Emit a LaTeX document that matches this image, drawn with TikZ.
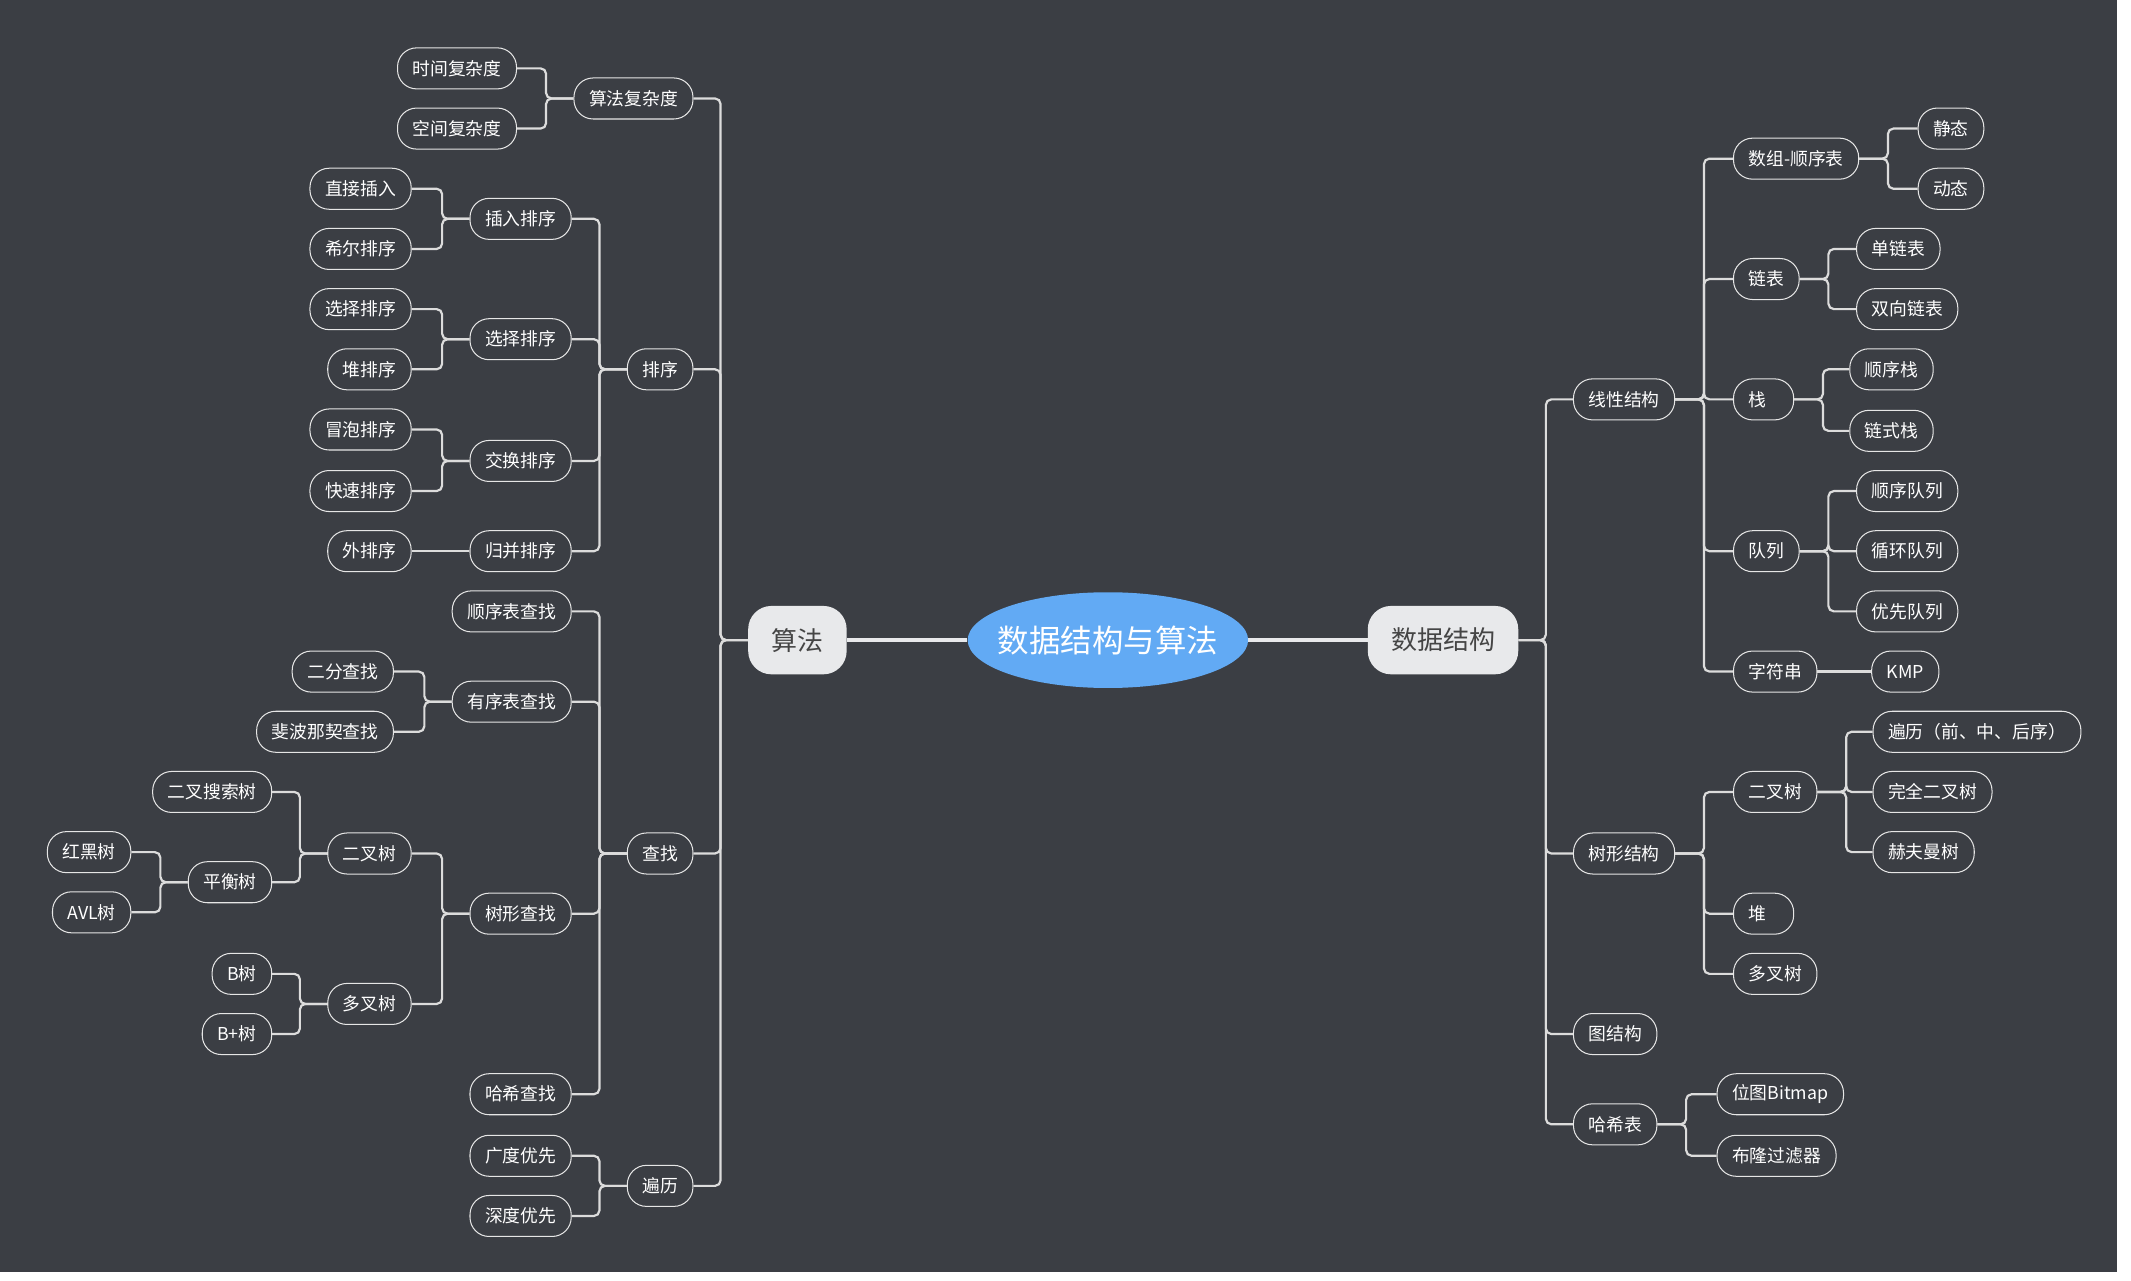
\documentclass[tikz,border=0pt]{standalone}
\usepackage{fontspec}
\setmainfont{Noto Sans CJK SC}
\usepackage{tikz}
\usetikzlibrary{positioning,shapes.geometric}
\definecolor{bgc}{HTML}{3B3E44}
\definecolor{linec}{HTML}{DCDCDC}
\definecolor{pillc}{HTML}{E6E6E6}
\definecolor{rootc}{HTML}{62AAF4}
\definecolor{mainc}{HTML}{E8E9EB}
\definecolor{maintext}{HTML}{454545}
\tikzset{%
	root/.style     = {ellipse, fill=rootc, minimum width=204pt, minimum height=70pt, inner xsep=-8pt, inner ysep=0pt, text=white, font=\fontsize{23}{26}\selectfont},
	main/.style     = {rectangle, fill=mainc, rounded corners=17pt, minimum height=50pt, inner xsep=17pt, text=maintext, font=\fontsize{19}{22}\selectfont},
	leaf/.style     = {draw=pillc, line width=0.75pt, rounded corners=14pt, minimum height=30pt, inner xsep=11pt, inner ysep=0pt, text=white, font=\fontsize{13}{15}\selectfont},
	narrow/.style   = {leaf, text width=22pt, align=left},
	link/.style     = {draw=linec, line width=1.6pt, rounded corners=4pt},
	mainlink/.style = {draw=mainc, line width=3pt},
}
\begin{document}
\begin{tikzpicture}[x=1pt,y=-1pt]
		\useasboundingbox (0,0) rectangle (1558,936);
		\fill[bgc] (0,0) rectangle (1548,930);
		
		% centre
		\node[root] (root) at (810,468) {数据结构与算法};
		\node[main] (sf) at (583,468) {算法};
		\node[main] (sjjg) at (1055,468) {数据结构};
		\draw[mainlink] (root) -- (sf);
		\draw[mainlink] (root) -- (sjjg);
		
		% algorithms, left side
		\node[leaf,anchor=east] (fzd) at (507,72) {算法复杂度};
		\node[leaf,anchor=east] (px) at (507,270) {排序};
		\node[leaf,anchor=east] (cz) at (507,624) {查找};
		\node[leaf,anchor=east] (bl) at (507,867) {遍历};
		\foreach \c in {fzd,px,cz,bl} \draw[link] (sf.west) -- ++(-20,0) |- (\c.east);
		
		\node[leaf,anchor=east] (sjfz) at (378,50) {时间复杂度};
		\node[leaf,anchor=east] (kjfz) at (378,94) {空间复杂度};
		\foreach \c in {sjfz,kjfz} \draw[link] (fzd.west) -- ++(-20,0) |- (\c.east);
		
		\node[leaf,anchor=east] (crpx) at (418,160) {插入排序};
		\node[leaf,anchor=east] (xzpx) at (418,248) {选择排序};
		\node[leaf,anchor=east] (jhpx) at (418,337) {交换排序};
		\node[leaf,anchor=east] (gbpx) at (418,403) {归并排序};
		\foreach \c in {crpx,xzpx,jhpx,gbpx} \draw[link] (px.west) -- ++(-20,0) |- (\c.east);
		
		\node[leaf,anchor=east] (zjcr) at (301,138) {直接插入};
		\node[leaf,anchor=east] (xepx) at (301,182) {希尔排序};
		\node[leaf,anchor=east] (jdxz) at (301,226) {选择排序};
		\node[leaf,anchor=east] (dpx) at (301,270) {堆排序};
		\node[leaf,anchor=east] (mppx) at (301,314) {冒泡排序};
		\node[leaf,anchor=east] (kspx) at (301,359) {快速排序};
		\node[leaf,anchor=east] (wpx) at (301,403) {外排序};
		\foreach \c in {zjcr,xepx} \draw[link] (crpx.west) -- ++(-20,0) |- (\c.east);
		\foreach \c in {jdxz,dpx} \draw[link] (xzpx.west) -- ++(-20,0) |- (\c.east);
		\foreach \c in {mppx,kspx} \draw[link] (jhpx.west) -- ++(-20,0) |- (\c.east);
		\draw[link] (gbpx.west) -- (wpx.east);
		
		\node[leaf,anchor=east] (sbcz) at (418,447) {顺序表查找};
		\node[leaf,anchor=east] (yxcz) at (418,513) {有序表查找};
		\node[leaf,anchor=east] (shcz) at (418,668) {树形查找};
		\node[leaf,anchor=east] (hxcz) at (418,800) {哈希查找};
		\foreach \c in {sbcz,yxcz,shcz,hxcz} \draw[link] (cz.west) -- ++(-20,0) |- (\c.east);
		
		\node[leaf,anchor=east] (efcz) at (288,491) {二分查找};
		\node[leaf,anchor=east] (fbcz) at (288,535) {斐波那契查找};
		\foreach \c in {efcz,fbcz} \draw[link] (yxcz.west) -- ++(-20,0) |- (\c.east);
		
		\node[leaf,anchor=east] (ecs) at (301,624) {二叉树};
		\node[leaf,anchor=east] (dcs) at (301,734) {多叉树};
		\foreach \c in {ecs,dcs} \draw[link] (shcz.west) -- ++(-20,0) |- (\c.east);
		
		\node[leaf,anchor=east] (ecss) at (199,579) {二叉搜索树};
		\node[leaf,anchor=east] (phs) at (199,645) {平衡树};
		\foreach \c in {ecss,phs} \draw[link] (ecs.west) -- ++(-20,0) |- (\c.east);
		
		\node[leaf,anchor=east] (hhs) at (96,623) {红黑树};
		\node[leaf,anchor=east] (avl) at (96,667) {AVL树};
		\foreach \c in {hhs,avl} \draw[link] (phs.west) -- ++(-20,0) |- (\c.east);
		
		\node[leaf,anchor=east] (bs) at (199,712) {B树};
		\node[leaf,anchor=east] (bps) at (199,756) {B+树};
		\foreach \c in {bs,bps} \draw[link] (dcs.west) -- ++(-20,0) |- (\c.east);
		
		\node[leaf,anchor=east] (gdyx) at (418,845) {广度优先};
		\node[leaf,anchor=east] (sdyx) at (418,889) {深度优先};
		\foreach \c in {gdyx,sdyx} \draw[link] (bl.west) -- ++(-20,0) |- (\c.east);
		
		% data structures, right side
		\node[leaf,anchor=west] (xxjg) at (1150,292) {线性结构};
		\node[leaf,anchor=west] (sxjg) at (1150,624) {树形结构};
		\node[leaf,anchor=west] (tjg) at (1150,756) {图结构};
		\node[leaf,anchor=west] (hxb) at (1150,822) {哈希表};
		\foreach \c in {xxjg,sxjg,tjg,hxb} \draw[link] (sjjg.east) -- ++(20,0) |- (\c.west);
		
		\node[leaf,anchor=west] (szsx) at (1267,116) {数组-顺序表};
		\node[leaf,anchor=west] (lb) at (1267,204) {链表};
		\node[narrow,anchor=west] (zhan) at (1267,292) {栈};
		\node[leaf,anchor=west] (dl) at (1267,403) {队列};
		\node[leaf,anchor=west] (zfc) at (1267,491) {字符串};
		\foreach \c in {szsx,lb,zhan,dl,zfc} \draw[link] (xxjg.east) -- ++(21,0) |- (\c.west);
		
		\node[leaf,anchor=west] (jt) at (1402,94) {静态};
		\node[leaf,anchor=west] (dt) at (1402,138) {动态};
		\foreach \c in {jt,dt} \draw[link] (szsx.east) -- ++(21,0) |- (\c.west);
		
		\node[leaf,anchor=west] (dlb) at (1357,182) {单链表};
		\node[leaf,anchor=west] (sxlb) at (1357,226) {双向链表};
		\foreach \c in {dlb,sxlb} \draw[link] (lb.east) -- ++(21,0) |- (\c.west);
		
		\node[leaf,anchor=west] (sxz) at (1352,270) {顺序栈};
		\node[leaf,anchor=west] (lsz) at (1352,315) {链式栈};
		\foreach \c in {sxz,lsz} \draw[link] (zhan.east) -- ++(21,0) |- (\c.west);
		
		\node[leaf,anchor=west] (sxdl) at (1357,359) {顺序队列};
		\node[leaf,anchor=west] (xhdl) at (1357,403) {循环队列};
		\node[leaf,anchor=west] (yxdl) at (1357,447) {优先队列};
		\foreach \c in {sxdl,xhdl,yxdl} \draw[link] (dl.east) -- ++(21,0) |- (\c.west);
		
		\node[leaf,anchor=west] (kmp) at (1368,491) {KMP};
		\draw[link] (zfc.east) -- (kmp.west);
		
		\node[leaf,anchor=west] (ecshu) at (1267,579) {二叉树};
		\node[narrow,anchor=west] (dui) at (1267,668) {堆};
		\node[leaf,anchor=west] (dcshu) at (1267,712) {多叉树};
		\foreach \c in {ecshu,dui,dcshu} \draw[link] (sxjg.east) -- ++(21,0) |- (\c.west);
		
		\node[leaf,anchor=west] (bianli) at (1369,535) {遍历（前、中、后序）};
		\node[leaf,anchor=west] (wqec) at (1369,579) {完全二叉树};
		\node[leaf,anchor=west] (hfm) at (1369,623) {赫夫曼树};
		\foreach \c in {bianli,wqec,hfm} \draw[link] (ecshu.east) -- ++(21,0) |- (\c.west);
		
		\node[leaf,anchor=west] (wt) at (1255,800) {位图Bitmap};
		\node[leaf,anchor=west] (blgl) at (1255,845) {布隆过滤器};
		\foreach \c in {wt,blgl} \draw[link] (hxb.east) -- ++(21,0) |- (\c.west);
\end{tikzpicture}
\end{document}
